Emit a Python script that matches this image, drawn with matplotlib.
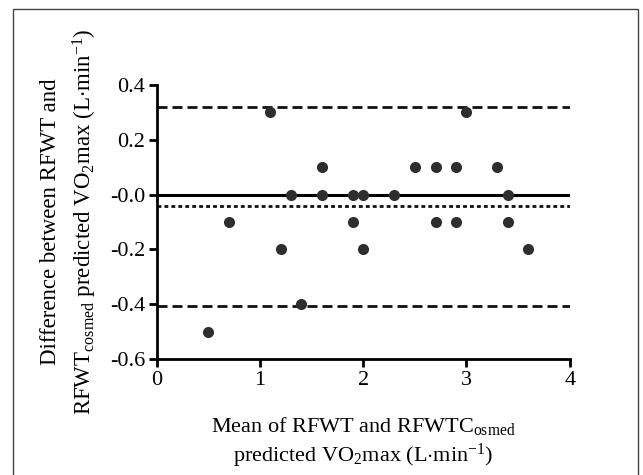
import numpy as np
import matplotlib
matplotlib.use("Agg")
import matplotlib.pyplot as plt
from matplotlib.patches import Rectangle

plt.rcParams['font.family'] = ['Liberation Serif', 'DejaVu Serif']
plt.rcParams['mathtext.fontset'] = 'custom'
plt.rcParams['mathtext.rm'] = 'Liberation Serif'
plt.rcParams['mathtext.it'] = 'Liberation Serif:italic'

# Bland-Altman: mean vs difference
mean_vals = [0.5, 0.7, 1.1, 1.2, 1.3, 1.4, 1.6, 1.6, 1.9, 1.9, 2.0, 2.0,
             2.3, 2.5, 2.7, 2.7, 2.9, 2.9, 3.0, 3.3, 3.4, 3.4, 3.6]
diff_vals = [-0.5, -0.1, 0.3, -0.2, 0.0, -0.4, 0.1, 0.0, 0.0, -0.1, 0.0, -0.2,
             0.0, 0.1, 0.1, -0.1, 0.1, -0.1, 0.3, 0.1, 0.0, -0.1, -0.2]
bias = -0.043
upper_loa = 0.32
lower_loa = -0.408

xticks = [0, 1, 2, 3, 4]
yticks = [0.4, 0.2, 0.0, -0.2, -0.4, -0.6]
ytick_labels = ['0.4', '0.2', '-0.0', '-0.2', '-0.4', '-0.6']

fig = plt.figure(figsize=(6.43, 4.75), dpi=100)
ax = fig.add_axes([0.244, 0.244, 0.642, 0.577])

fig.patches.append(Rectangle((13 / 643, -0.1), 625 / 643, 1.1 - 9 / 475,
                             transform=fig.transFigure, fill=False,
                             edgecolor='#444444', linewidth=1.0))

ax.plot([0, 4], [0, 0], color='black', lw=2.2, zorder=2)
ax.plot([0, 4], [upper_loa, upper_loa], color='#111111', lw=2.0,
        dashes=(3.6, 1.8), zorder=2)
ax.plot([0, 4], [lower_loa, lower_loa], color='#111111', lw=2.0,
        dashes=(3.6, 1.8), zorder=2)
ax.plot([0, 4], [bias, bias], color='#111111', lw=2.0,
        dashes=(1.4, 1.1), zorder=2)

ax.scatter(mean_vals, diff_vals, s=64, color='#2e2e2e', zorder=3,
           clip_on=False, linewidths=0)

ax.set_xlim(0, 4)
ax.set_ylim(-0.6, 0.4)
ax.set_xticks(xticks)
ax.set_yticks(yticks)
ax.set_yticklabels(ytick_labels)

for s in ['top', 'right']:
    ax.spines[s].set_visible(False)
for s in ['left', 'bottom']:
    ax.spines[s].set_linewidth(2.0)
ax.tick_params(direction='out', length=5.5, width=2.0, labelsize=16, pad=3)

ax.set_xlabel('Mean of RFWT and RFWTC$_{\\mathrm{osmed}}$\n'
              'predicted VO$_2$max (L$\\cdot$min$^{-1}$)',
              fontsize=16, labelpad=18, linespacing=1.25)
ax.set_ylabel('Difference between RFWT and\n'
              'RFWT$_{\\mathrm{cosmed}}$ predicted VO$_2$max (L$\\cdot$min$^{-1}$)',
              fontsize=16.5, labelpad=8, linespacing=1.45)

fig.savefig('out.png', dpi=100)
